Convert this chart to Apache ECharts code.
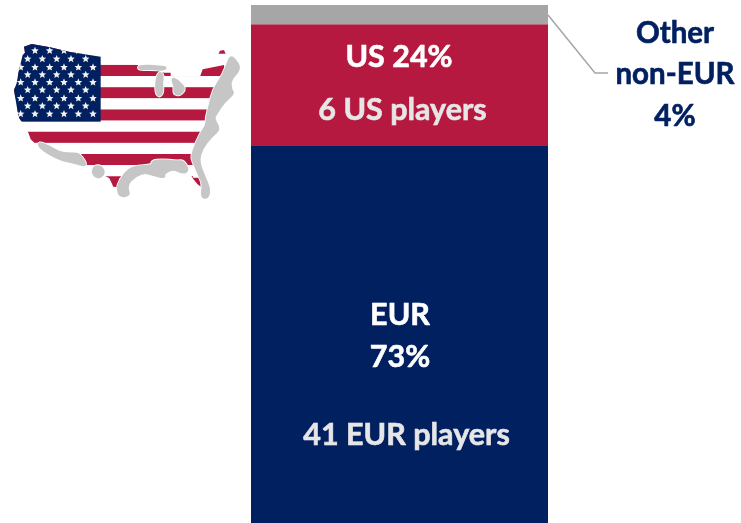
<!DOCTYPE html>
<html><head><meta charset="utf-8">
<style>html,body{margin:0;padding:0;background:#fff}#c{width:741px;height:523px}</style>
<script src="https://cdn.jsdelivr.net/npm/echarts@6/dist/echarts.min.js"></script>
</head><body><div id="c"></div>
<script>
const categories = ['Share of players'];
const eurValues = [72.8];
const usValues = [23.5];
const otherValues = [3.7];
const eurLabel = ['EUR', '73%', '41 EUR players'];
const usLabel = ['US 24%', '6 US players'];
const otherLabel = ['Other', 'non-EUR', '4%'];

const BLUE = '#002060', RED = '#b51940', GRAY = '#a6a6a6';
const FONT = 'Lato, "Open Sans", sans-serif';

// ---- decorative flag-map illustration, coordinates in its own 750x525 drawing space ----
function flagMap() {
  const S = 1 / 3, cv = document.createElement('canvas');
  cv.width = 250; cv.height = 175;
  const g = cv.getContext('2d');
  g.scale(S, S);
  g.filter = 'blur(0.35px)';
  const smooth = (pts) => {
    g.beginPath();
    const n = pts.length;
    const mid = (a, b) => [(a[0] + b[0]) / 2, (a[1] + b[1]) / 2];
    const s = mid(pts[n - 1], pts[0]);
    g.moveTo(s[0], s[1]);
    pts.forEach((p, i) => { const m = mid(p, pts[(i + 1) % n]); g.quadraticCurveTo(p[0], p[1], m[0], m[1]); });
    g.closePath();
  };
  const land = [[72,50],[95,42],[150,52],[210,66],[302,80],[350,92],[415,104],[420,120],[470,120],[492,128],[512,128],[512,140],[600,140],[608,118],[672,105],[680,140],[650,175],[640,205],[632,240],[625,275],[605,305],[590,343],[575,376],[590,410],[578,443],[602,443],[602,470],[592,462],[578,445],[560,412],[400,412],[380,445],[358,445],[355,472],[340,470],[328,445],[300,430],[280,412],[262,410],[245,376],[160,376],[108,343],[92,328],[85,308],[65,275],[58,265],[52,240],[47,210],[42,180],[50,160],[55,130],[62,100],[68,75],[75,68]];
  const maine = [[655,72],[660,62],[672,60],[677,72]];
  g.save();
  g.beginPath();
  [land, maine].forEach(pts => { pts.forEach((p, i) => i ? g.lineTo(p[0], p[1]) : g.moveTo(p[0], p[1])); g.closePath(); });
  g.clip();
  const top = 38, h = 33.4;
  for (let i = 0; i < 13; i++) { g.fillStyle = i % 2 ? '#fff' : RED; g.fillRect(0, top + i * h, 750, h + 0.3); }
  g.fillStyle = BLUE; g.fillRect(0, 38, 302, 237);
  const star = (x, y, r) => {
    g.beginPath();
    for (let i = 0; i < 10; i++) {
      const a = -Math.PI / 2 + i * Math.PI / 5, q = i % 2 ? r * 0.45 : r;
      g.lineTo(x + q * Math.cos(a), y + q * Math.sin(a));
    }
    g.closePath(); g.fill();
  };
  g.fillStyle = '#f2f2f2';
  [62,87,112,134,157,180,205,228,252].forEach((y, row) => {
    const xs = row % 2 ? [83,127,170,213,257] : [62,105,149,192,235,279];
    xs.forEach(x => star(x, y, 12));
  });
  g.restore();
  const grayShapes = [
    [[692,80],[705,88],[722,116],[690,150],[693,180],[702,190],[672,215],[650,250],[640,265],[660,298],[635,318],[605,355],[595,395],[615,445],[628,475],[625,500],[610,505],[605,490],[610,465],[600,440],[580,395],[575,375],[600,315],[620,285],[620,262],[630,225],[640,180],[670,135],[685,95]],
    [[360,455],[375,430],[400,410],[460,407],[455,395],[485,390],[530,395],[550,393],[565,420],[550,430],[520,415],[490,430],[495,443],[460,435],[430,425],[390,450],[380,475],[390,495],[360,500],[352,475]],
    [[115,337],[150,350],[180,370],[225,370],[240,375],[262,410],[220,397],[185,390],[150,373],[120,353]],
    [[415,111],[430,107],[470,109],[500,112],[490,120],[455,116],[420,118]],
    [[480,125],[470,145],[468,185],[478,200],[488,185],[485,155],[490,140]],
    [[515,145],[525,170],[522,190],[540,195],[555,175],[540,160],[530,150]],
    [[277,425],[285,408],[305,410],[313,428],[300,443],[285,440]]
  ];
  grayShapes.forEach(pts => {
    smooth(pts);
    g.strokeStyle = '#fff'; g.lineWidth = 12; g.stroke();
  });
  grayShapes.forEach(pts => {
    smooth(pts);
    g.strokeStyle = '#c6c6c6'; g.lineWidth = 7; g.stroke();
    g.fillStyle = '#c6c6c6'; g.fill();
  });
  return cv;
}

const chart = echarts.init(document.getElementById('c'), null, { renderer: 'canvas' });
const barBase = { type: 'bar', stack: 'total', barWidth: '100%', silent: true };
const heavy = { textBorderWidth: 0.6 };
chart.setOption({
  animation: false,
  backgroundColor: '#ffffff',
  grid: { left: 251, top: 5, width: 297, height: 518 },
  xAxis: { type: 'category', data: categories, show: false },
  yAxis: { type: 'value', min: 0, max: 100, show: false },
  series: [
    { ...barBase, name: 'EUR', data: eurValues, itemStyle: { color: BLUE },
      label: { show: true, position: 'inside', offset: [7, 41], align: 'center',
        formatter: () => `{a|${eurLabel[0]}}\n{a|${eurLabel[1]}}\n{s|}\n{b|${eurLabel[2]}}`,
        rich: {
          a: { fontFamily: FONT, fontWeight: 'bold', fontSize: 30.5, color: '#fff', textBorderColor: '#fff', ...heavy, lineHeight: 42, align: 'center', padding: [0, 13, 0, 0] },
          s: { fontSize: 10, lineHeight: 36 },
          b: { fontFamily: FONT, fontWeight: 'bold', fontSize: 30.5, color: '#e6e6e6', textBorderColor: '#e6e6e6', ...heavy, lineHeight: 42, align: 'center' }
        } } },
    { ...barBase, name: 'US', data: usValues, itemStyle: { color: RED },
      label: { show: true, position: 'inside', offset: [3, -1], align: 'center',
        formatter: () => `{a|${usLabel[0]}}\n{b|${usLabel[1]}}`,
        rich: {
          a: { fontFamily: FONT, fontWeight: 'bold', fontSize: 30.5, color: '#fff', textBorderColor: '#fff', ...heavy, lineHeight: 53, align: 'center', padding: [0, 7, 0, 0] },
          b: { fontFamily: FONT, fontWeight: 'bold', fontSize: 30.5, color: '#e6e6e6', textBorderColor: '#e6e6e6', ...heavy, lineHeight: 53, align: 'center' }
        } } },
    { ...barBase, name: 'Other non-EUR', data: otherValues, itemStyle: { color: GRAY },
      label: { show: true, position: 'inside', offset: [275.5, 60], align: 'center',
        formatter: () => otherLabel.join('\n'),
        fontFamily: FONT, fontWeight: 'bold', fontSize: 29.5, color: BLUE, textBorderColor: BLUE, ...heavy, lineHeight: 41.5 } }
  ],
  graphic: [
    { type: 'image', left: 0, top: 30, silent: true, style: { image: flagMap(), width: 250, height: 175 } },
    { type: 'polyline', silent: true, shape: { points: [[548, 15], [595, 73], [608, 73]] }, style: { stroke: GRAY, lineWidth: 1.5, fill: 'none' } }
  ]
});
</script></body></html>
